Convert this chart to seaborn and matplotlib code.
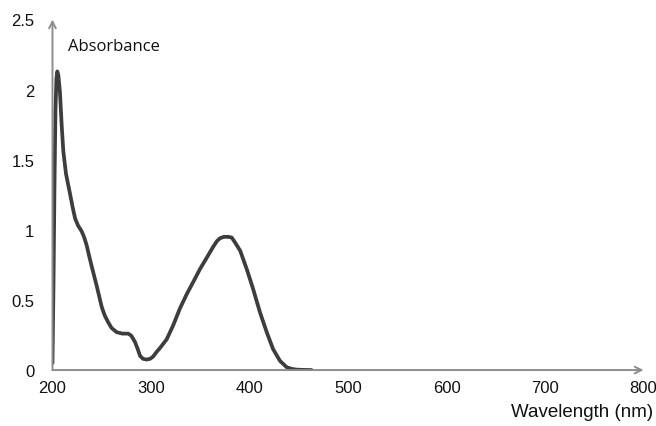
import matplotlib
matplotlib.use("Agg")
import matplotlib.pyplot as plt
import seaborn as sns
import pandas as pd

# UV-vis absorbance spectrum
wavelength = [200, 201, 202, 203, 204, 204.9, 206, 207.6, 209.3, 211, 213.7,
              216, 218, 220.5, 223, 226, 229.6, 232, 234.7, 237, 239.8,
              244.9, 250, 253, 256.6, 260, 265.2, 271, 277, 280, 283.8,
              286.5, 289, 292, 295.6, 299, 302, 305.8, 310, 316, 322.6,
              329.4, 336.2, 343, 349.7, 356.5, 363.2, 367, 370, 374, 378.5,
              382, 385.3, 388, 390.6, 397.2, 403.6, 410.7, 417.5, 423.9,
              431, 437.8, 443, 447.9, 455, 463]
absorbance = [0.05, 0.6, 1.3, 1.85, 2.08, 2.13, 2.1, 1.98, 1.75, 1.56, 1.40,
              1.32, 1.25, 1.16, 1.08, 1.03, 0.99, 0.95, 0.89, 0.82, 0.74,
              0.60, 0.45, 0.39, 0.34, 0.30, 0.27, 0.26, 0.26, 0.245, 0.20,
              0.15, 0.10, 0.08, 0.075, 0.08, 0.095, 0.13, 0.165, 0.22, 0.32,
              0.44, 0.54, 0.63, 0.72, 0.80, 0.88, 0.92, 0.94, 0.95, 0.95,
              0.945, 0.91, 0.88, 0.85, 0.72, 0.58, 0.41, 0.27, 0.15,
              0.065, 0.02, 0.008, 0.003, 0.001, 0]

x_ticks = [200, 300, 400, 500, 600, 700, 800]
y_ticks = [0, 0.5, 1, 1.5, 2, 2.5]
y_tick_labels = ["0", "0.5", "1", "1.5", "2", "2.5"]

df = pd.DataFrame({"wavelength": wavelength, "absorbance": absorbance})

sns.set_style("white")
plt.rcParams["font.family"] = ["Liberation Sans", "DejaVu Sans"]

axis_grey = "#8c8c8c"

fig = plt.figure(figsize=(6.56, 4.27), dpi=100)
ax = fig.add_axes([0.08, 0.131, 0.901, 0.821])

sns.lineplot(data=df, x="wavelength", y="absorbance", ax=ax,
             color="#3d3d3d", linewidth=2.7, solid_joinstyle="round",
             solid_capstyle="round")

ax.set_xlim(200, 800)
ax.set_ylim(0, 2.5)
ax.set_xticks(x_ticks)
ax.set_yticks(y_ticks)
ax.set_yticklabels(y_tick_labels)
ax.set_xlabel("")
ax.set_ylabel("")

for s in ax.spines.values():
    s.set_visible(False)

ax.tick_params(axis="both", direction="out", length=4, width=0.8,
               color=axis_grey, labelsize=12, labelcolor="#111111", pad=4)
ax.tick_params(axis="y", pad=9)
ax.tick_params(axis="x", length=3)

# axes drawn as arrows
arrow = dict(arrowstyle="->", color=axis_grey, lw=1.4,
             shrinkA=0, shrinkB=0, mutation_scale=12)
ax.annotate("", xy=(0, 1.0), xytext=(0, 0), xycoords="axes fraction",
            arrowprops=arrow, annotation_clip=False)
ax.annotate("", xy=(1.0, 0), xytext=(0, 0), xycoords="axes fraction",
            arrowprops=arrow, annotation_clip=False)

ax.text(0.027, 0.925, "Absorbance", transform=ax.transAxes,
        fontsize=12, family=["Open Sans", "DejaVu Sans"], color="#111111",
        ha="left", va="center")
fig.text(0.996, 0.033, "Wavelength (nm)", fontsize=13.5, color="#111111",
         ha="right", va="center")

fig.savefig("out.png", dpi=100)
